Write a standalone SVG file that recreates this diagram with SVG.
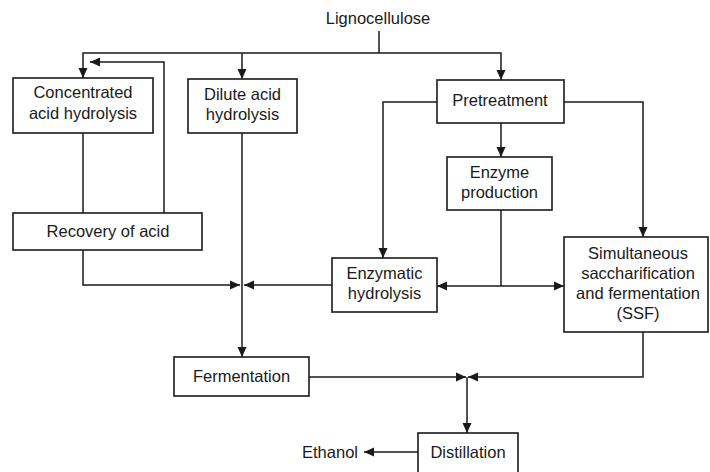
<svg xmlns="http://www.w3.org/2000/svg" width="710" height="472" viewBox="0 0 710 472">
<defs>
<style>
.box{fill:#fff;stroke:#1a1a1a;stroke-width:1.6}
.t{font-family:"Liberation Sans",Arial,sans-serif;font-size:16.5px;fill:#1a1a1a;text-anchor:middle;dominant-baseline:central}
.c{fill:none;stroke:#1a1a1a;stroke-width:1.5}
</style>
<marker id="ah" viewBox="0 0 10 10" refX="10" refY="5" markerWidth="10" markerHeight="10" markerUnits="userSpaceOnUse" orient="auto">
<path d="M0 0.5 L10 5 L0 9.5 Z" fill="#1a1a1a"/>
</marker>
</defs>
<rect width="710" height="472" fill="#fff"/>
<g id="connectors">
<path class="c" d="M379 31 V53"/>
<path class="c" d="M379 53 H83 V78" marker-end="url(#ah)"/>
<path class="c" d="M242 53 V79" marker-end="url(#ah)"/>
<path class="c" d="M379 53 H501 V80" marker-end="url(#ah)"/>
<path class="c" d="M83 133 V213"/>
<path class="c" d="M164 213 V62 H90" marker-end="url(#ah)"/>
<path class="c" d="M83 250 V285 H240" marker-end="url(#ah)"/>
<path class="c" d="M332 285 H244" marker-end="url(#ah)"/>
<path class="c" d="M242 133 V357" marker-end="url(#ah)"/>
<path class="c" d="M437 102 H383 V258" marker-end="url(#ah)"/>
<path class="c" d="M564 102 H643 V237" marker-end="url(#ah)"/>
<path class="c" d="M501 123 V157" marker-end="url(#ah)"/>
<path class="c" d="M501 210 V286"/>
<path class="c" d="M501 286 H437" marker-end="url(#ah)"/>
<path class="c" d="M501 286 H564" marker-end="url(#ah)"/>
<path class="c" d="M309 377 H466" marker-end="url(#ah)"/>
<path class="c" d="M643 332 V377 H468" marker-end="url(#ah)"/>
<path class="c" d="M467 377 V433" marker-end="url(#ah)"/>
<path class="c" d="M418 452 H364" marker-end="url(#ah)"/>
</g>
<g id="lignocellulose"><text class="t" x="378" y="18">Lignocellulose</text></g>
<g id="concentrated"><rect class="box" x="13" y="78" width="140" height="55"/><text class="t" x="83" y="92">Concentrated</text><text class="t" x="83" y="113">acid hydrolysis</text></g>
<g id="dilute"><rect class="box" x="188" y="79" width="109" height="54"/><text class="t" x="242.5" y="94">Dilute acid</text><text class="t" x="242.5" y="114">hydrolysis</text></g>
<g id="pretreatment"><rect class="box" x="437" y="80" width="127" height="43"/><text class="t" x="500" y="100">Pretreatment</text></g>
<g id="enzyme-production"><rect class="box" x="447" y="157" width="105" height="53"/><text class="t" x="499.5" y="172">Enzyme</text><text class="t" x="499.5" y="192">production</text></g>
<g id="recovery"><rect class="box" x="13" y="213" width="189" height="37"/><text class="t" x="108" y="231">Recovery of acid</text></g>
<g id="enzymatic-hydrolysis"><rect class="box" x="332" y="258" width="105" height="54"/><text class="t" x="384.5" y="273">Enzymatic</text><text class="t" x="384.5" y="293">hydrolysis</text></g>
<g id="ssf"><rect class="box" x="564" y="237" width="144" height="95"/><text class="t" x="638" y="253">Simultaneous</text><text class="t" x="638" y="273">saccharification</text><text class="t" x="638" y="293">and fermentation</text><text class="t" x="638" y="313">(SSF)</text></g>
<g id="fermentation"><rect class="box" x="174" y="357" width="135" height="39"/><text class="t" x="241.5" y="376">Fermentation</text></g>
<g id="distillation"><rect class="box" x="418" y="433" width="100" height="42"/><text class="t" x="468" y="452">Distillation</text></g>
<g id="ethanol"><text class="t" x="330" y="452">Ethanol</text></g>
</svg>
